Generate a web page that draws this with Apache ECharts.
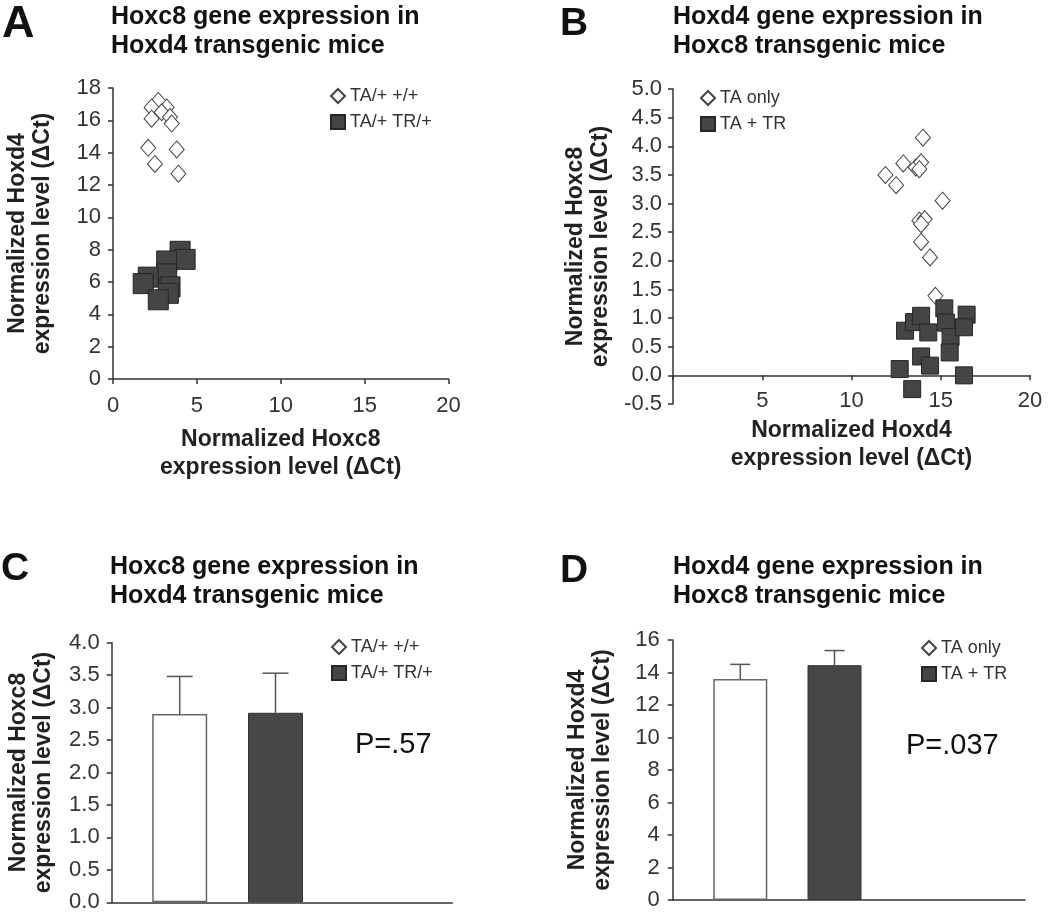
<!DOCTYPE html>
<html><head><meta charset="utf-8">
<script src="https://cdn.jsdelivr.net/npm/echarts@6/dist/echarts.min.js"></script>
<style>html,body{margin:0;padding:0;background:#fff}#c{width:1050px;height:919px}</style>
</head><body><div id="c"></div>
<script>
// ---------- Panel A: Hoxc8 vs Hoxd4 in Hoxd4 transgenic mice ----------
const aWtName = 'TA/+ +/+';
const aTgName = 'TA/+ TR/+';
const aWtX = [2.7, 2.3, 3.2, 2.9, 2.3, 3.4, 3.5, 2.1, 3.8, 2.5, 3.9];
const aWtY = [17.2, 16.8, 16.8, 16.5, 16.1, 16.2, 15.8, 14.3, 14.2, 13.3, 12.7];
const aTgX = [4.0, 4.3, 3.2, 3.2, 2.1, 1.8, 3.4, 3.3, 2.7];
const aTgY = [7.9, 7.4, 7.3, 6.5, 6.3, 5.9, 5.7, 5.3, 4.9];

// ---------- Panel B: Hoxd4 vs Hoxc8 in Hoxc8 transgenic mice ----------
const bOnlyName = 'TA only';
const bTrName = 'TA + TR';
const bOnlyX = [14.0, 12.9, 13.6, 13.9, 13.8, 11.9, 12.5, 15.1, 13.8, 14.1, 13.9, 13.9, 14.4, 14.7];
const bOnlyY = [4.15, 3.7, 3.63, 3.72, 3.6, 3.5, 3.32, 3.05, 2.7, 2.73, 2.64, 2.33, 2.06, 1.39];
const bTrX = [12.7, 13.4, 13.0, 13.5, 13.9, 14.3, 13.9, 14.4, 15.2, 15.3, 15.55, 15.5, 16.45, 16.3, 16.3];
const bTrY = [0.11, -0.24, 0.78, 0.93, 1.04, 0.75, 0.33, 0.17, 1.17, 0.92, 0.67, 0.40, 1.06, 0.84, 0.0];

// ---------- Panel C: mean Hoxc8 (bars) ----------
const cGroups = [aWtName, aTgName];
const cMeans = [2.9, 2.92];
const cUpper = [3.48, 3.53];
const cP = 'P=.57';

// ---------- Panel D: mean Hoxd4 (bars) ----------
const dGroups = [bOnlyName, bTrName];
const dMeans = [13.6, 14.45];
const dUpper = [14.5, 15.35];
const dP = 'P=.037';

// ---------- Titles / axis names ----------
const titleA = 'Hoxc8 gene expression in\nHoxd4 transgenic mice';
const titleB = 'Hoxd4 gene expression in\nHoxc8 transgenic mice';
const yNameA = 'Normalized Hoxd4\nexpression level (\u0394Ct)';
const xNameA = 'Normalized Hoxc8\nexpression level (\u0394Ct)';
const yNameB = 'Normalized Hoxc8\nexpression level (\u0394Ct)';
const xNameB = 'Normalized Hoxd4\nexpression level (\u0394Ct)';

const FONT = '"Liberation Sans", Arial, Helvetica, sans-serif';
const AX = '#333';
const zip = (xs, ys) => xs.map((x, i) => [x, ys[i]]);

const lineS = {show: true, lineStyle: {color: AX, width: 1.5}};
const tickS = {show: true, length: 5, lineStyle: {color: AX, width: 1.5}};
const lbl = (extra) => Object.assign({color: '#333', fontSize: 22, fontFamily: FONT}, extra || {});
const yNameS = {color: '#222', fontSize: 23, fontWeight: 'bold', fontFamily: FONT, lineHeight: 25};
const xNameS = {color: '#222', fontSize: 23, fontWeight: 'bold', fontFamily: FONT, lineHeight: 28};
const fix1 = v => Number(v).toFixed(1);

const diamondStyle = {color: '#fff', borderColor: '#444', borderWidth: 1, opacity: 1};
const squareStyle = {color: '#454545', borderColor: '#262626', borderWidth: 1, opacity: 1};

function errRender(cap) {
  return function (params, api) {
    const c = api.value(0);
    const p0 = api.coord([c, api.value(1)]);
    const p1 = api.coord([c, api.value(2)]);
    const st = {stroke: '#555', lineWidth: 1.5};
    return {type: 'group', children: [
      {type: 'line', shape: {x1: p0[0], y1: p0[1], x2: p1[0], y2: p1[1]}, style: st},
      {type: 'line', shape: {x1: p1[0] - cap / 2, y1: p1[1], x2: p1[0] + cap / 2, y2: p1[1]}, style: st}
    ]};
  };
}

function letter(t, left, top, size) {
  return {text: t, left: left, top: top, padding: 0,
    textStyle: {fontSize: size, fontWeight: 'bold', color: '#111', fontFamily: FONT, lineHeight: size}};
}
function heading(t, left, top) {
  return {text: t, left: left, top: top, padding: 0,
    textStyle: {fontSize: 25, fontWeight: 'bold', color: '#111', fontFamily: FONT, lineHeight: 29}};
}
function ptext(t, left, top) {
  return {text: t, left: left, top: top, padding: 0,
    textStyle: {fontSize: 29, fontWeight: 'normal', color: '#111', fontFamily: FONT, lineHeight: 29}};
}
function legend(names, left, top) {
  return {orient: 'vertical', left: left, top: top, padding: 0, itemGap: 8,
    itemWidth: 14, itemHeight: 14, selectedMode: false,
    data: [{name: names[0], icon: 'diamond'}, {name: names[1], icon: 'rect'}],
    textStyle: {fontSize: 18, color: '#333', fontFamily: FONT}};
}

const option = {
  animation: false,
  backgroundColor: '#fff',
  textStyle: {fontFamily: FONT},
  title: [
    letter('A', 2, 2, 45), heading(titleA, 111, 3),
    letter('B', 560, 5, 39), heading(titleB, 673, 3),
    letter('C', 1, 550, 39), heading(titleA, 110, 553),
    letter('D', 560, 552, 39), heading(titleB, 673, 553),
    ptext(cP, 355, 730), ptext(dP, 906, 731)
  ],
  legend: [
    legend([aWtName, aTgName], 330, 87),
    legend([bOnlyName, bTrName], 700, 89),
    legend([aWtName, aTgName], 331, 638),
    legend([bOnlyName, bTrName], 921, 639)
  ],
  grid: [
    {left: 113, top: 88, width: 335.5, height: 291},
    {left: 673, top: 89, width: 357, height: 315},
    {left: 111.7, top: 642.7, width: 340.6, height: 259.6},
    {left: 131.8, top: 642.7, width: 191.6, height: 259.6},
    {left: 672.7, top: 640, width: 352.3, height: 260},
    {left: 693.2, top: 640, width: 188.4, height: 260}
  ],
  xAxis: [
    {gridIndex: 0, type: 'value', min: 0, max: 20, interval: 5, axisLine: lineS, axisTick: tickS,
      axisLabel: lbl({margin: 16}), splitLine: {show: false},
      name: xNameA, nameLocation: 'middle', nameGap: 47, nameTextStyle: xNameS},
    {gridIndex: 1, type: 'value', position: 'top', min: 0, max: 20, interval: 5,
      axisLine: {show: true, onZero: true, lineStyle: {color: AX, width: 1.5}},
      axisTick: {show: true, inside: true, length: 5, lineStyle: {color: AX, width: 1.5}},
      axisLabel: {show: false}, splitLine: {show: false}},
    {gridIndex: 1, type: 'value', position: 'bottom', min: 0, max: 20, interval: 5,
      axisLine: {show: false, onZero: false}, axisTick: {show: false},
      axisLabel: lbl({margin: -3, verticalAlign: 'middle', formatter: v => (v === 0 ? '' : String(v))}),
      splitLine: {show: false},
      name: xNameB, nameLocation: 'middle', nameGap: 13, nameTextStyle: xNameS},
    {gridIndex: 2, type: 'value', min: 0, max: 1, axisLine: lineS, axisTick: {show: false},
      axisLabel: {show: false}, splitLine: {show: false}},
    {gridIndex: 3, type: 'category', data: cGroups, show: false},
    {gridIndex: 4, type: 'value', min: 0, max: 1, axisLine: lineS, axisTick: {show: false},
      axisLabel: {show: false}, splitLine: {show: false}},
    {gridIndex: 5, type: 'category', data: dGroups, show: false}
  ],
  yAxis: [
    {gridIndex: 0, type: 'value', min: 0, max: 18, interval: 2, axisLine: lineS, axisTick: tickS,
      axisLabel: lbl({margin: 12}), splitLine: {show: false},
      name: yNameA, nameLocation: 'middle', nameRotate: 90, nameGap: 58, nameTextStyle: yNameS},
    {gridIndex: 1, type: 'value', min: -0.5, max: 5, interval: 0.5, axisLine: lineS, axisTick: tickS,
      axisLabel: lbl({margin: 11, formatter: fix1}), splitLine: {show: false},
      name: yNameB, nameLocation: 'middle', nameRotate: 90, nameGap: 60, nameTextStyle: yNameS},
    {gridIndex: 2, type: 'value', min: 0, max: 4, interval: 0.5, axisLine: lineS, axisTick: tickS,
      axisLabel: lbl({margin: 12, formatter: fix1}), splitLine: {show: false},
      name: yNameB, nameLocation: 'middle', nameRotate: 90, nameGap: 56, nameTextStyle: yNameS},
    {gridIndex: 3, type: 'value', min: 0, max: 4, show: false},
    {gridIndex: 4, type: 'value', min: 0, max: 16, interval: 2, axisLine: lineS, axisTick: tickS,
      axisLabel: lbl({margin: 13}), splitLine: {show: false},
      name: yNameA, nameLocation: 'middle', nameRotate: 90, nameGap: 58, nameTextStyle: yNameS},
    {gridIndex: 5, type: 'value', min: 0, max: 16, show: false}
  ],
  series: [
    {name: aWtName, type: 'scatter', xAxisIndex: 0, yAxisIndex: 0, data: zip(aWtX, aWtY),
      symbol: 'diamond', symbolSize: [15, 17], itemStyle: diamondStyle},
    {name: aTgName, type: 'scatter', xAxisIndex: 0, yAxisIndex: 0, data: zip(aTgX, aTgY),
      symbol: 'rect', symbolSize: 20, itemStyle: squareStyle},
    {name: bOnlyName, type: 'scatter', xAxisIndex: 1, yAxisIndex: 1, data: zip(bOnlyX, bOnlyY),
      symbol: 'diamond', symbolSize: [15, 17], itemStyle: diamondStyle},
    {name: bTrName, type: 'scatter', xAxisIndex: 1, yAxisIndex: 1, data: zip(bTrX, bTrY),
      symbol: 'rect', symbolSize: 17, itemStyle: squareStyle},

    {name: aWtName, type: 'bar', xAxisIndex: 4, yAxisIndex: 3, barWidth: 55, barGap: '-100%',
      data: [cMeans[0], '-'], itemStyle: {color: '#fff', borderColor: '#666', borderWidth: 1.5}},
    {name: aTgName, type: 'bar', xAxisIndex: 4, yAxisIndex: 3, barWidth: 55, barGap: '-100%',
      data: ['-', cMeans[1]], itemStyle: {color: '#474747', borderColor: '#333', borderWidth: 1}},
    {name: 'errC', type: 'custom', xAxisIndex: 4, yAxisIndex: 3, z: 5,
      renderItem: errRender(26), encode: {x: 0, y: [1, 2]},
      data: cGroups.map((g, i) => [i, cMeans[i], cUpper[i]])},

    {name: bOnlyName, type: 'bar', xAxisIndex: 6, yAxisIndex: 5, barWidth: 54, barGap: '-100%',
      data: [dMeans[0], '-'], itemStyle: {color: '#fff', borderColor: '#666', borderWidth: 1.5}},
    {name: bTrName, type: 'bar', xAxisIndex: 6, yAxisIndex: 5, barWidth: 54, barGap: '-100%',
      data: ['-', dMeans[1]], itemStyle: {color: '#474747', borderColor: '#333', borderWidth: 1}},
    {name: 'errD', type: 'custom', xAxisIndex: 6, yAxisIndex: 5, z: 5,
      renderItem: errRender(20), encode: {x: 0, y: [1, 2]},
      data: dGroups.map((g, i) => [i, dMeans[i], dUpper[i]])}
  ]
};

const chart = echarts.init(document.getElementById('c'), null, {renderer: 'canvas'});
chart.setOption(option);
</script></body></html>
